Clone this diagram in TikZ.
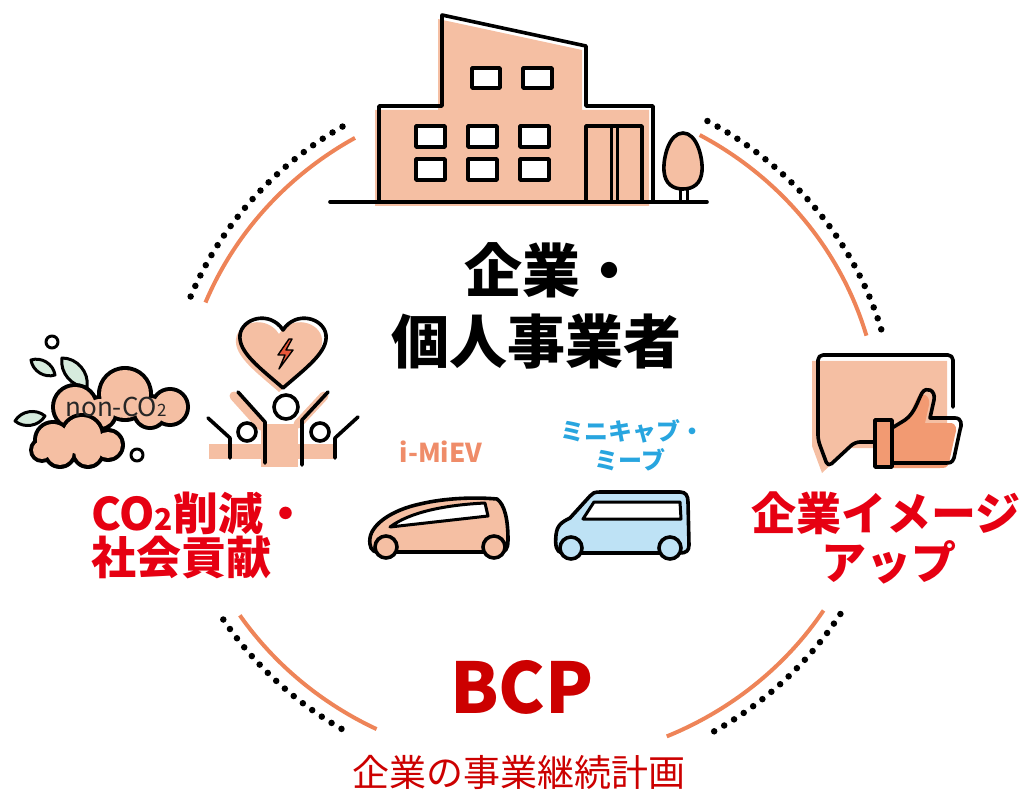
\documentclass[tikz,border=0pt]{standalone}
\usepackage{fontspec}
\newfontfamily\jpfont{Noto Sans CJK JP}
\definecolor{salmon}{HTML}{F5BFA3}
\definecolor{arcorange}{HTML}{EE8458}
\definecolor{brandred}{HTML}{E60012}
\definecolor{bcpred}{HTML}{CC0000}
\definecolor{vanblue}{HTML}{BEE2F5}
\definecolor{capblue}{HTML}{28A5DF}
\definecolor{evorange}{HTML}{EF8C69}
\definecolor{leafgreen}{HTML}{D6EBDD}
\definecolor{thumbor}{HTML}{F29A72}
\definecolor{boltred}{HTML}{E9573A}
\tikzset{
  ink/.style={draw=black,line width=3.6pt,line join=round,line cap=round},
  ring/.style={draw=arcorange,line width=4pt},
  dots/.style={draw=black,line width=6.5pt,line cap=round,dash pattern=on 0pt off 11.6pt},
  window/.style={ink,line width=3.4pt,fill=white},
  leaf/.style={ink,line width=3pt,fill=leafgreen},
  headtxt/.style={font=\jpfont\bfseries\fontsize{58}{64}\selectfont,anchor=base},
  redtxt/.style={font=\jpfont\bfseries\fontsize{45}{50}\selectfont,text=brandred},
  cartxt/.style={font=\jpfont\bfseries\fontsize{24}{28}\selectfont,anchor=base}
}
\begin{document}
\begin{tikzpicture}[x=1pt,y=-1pt]
  \useasboundingbox (0,0) rectangle (1026,794);

  % Ring: orange arcs with dotted outer arcs
  \draw[ring] (530,428) ++(202:350 and 335) arc[start angle=202,end angle=240,x radius=350,y radius=335];
  \draw[ring] (530,428) ++(299:350 and 335) arc[start angle=299,end angle=344,x radius=350,y radius=335];
  \draw[ring] (530,428) ++(33:350 and 335) arc[start angle=33,end angle=67,x radius=350,y radius=335];
  \draw[ring] (530,428) ++(116:350 and 335) arc[start angle=116,end angle=146,x radius=350,y radius=335];
  \draw[dots] (530,428) ++(202:366 and 351) arc[start angle=202,end angle=240,x radius=366,y radius=351];
  \draw[dots] (530,428) ++(299:366 and 351) arc[start angle=299,end angle=344,x radius=366,y radius=351];
  \draw[dots] (530,428) ++(32:366 and 351) arc[start angle=32,end angle=60,x radius=366,y radius=351];
  \draw[dots] (530,428) ++(121:366 and 351) arc[start angle=121,end angle=147,x radius=366,y radius=351];

  % Building
  \fill[salmon,shift={(-4,4)}] (379,202) -- (379,106) -- (442,106) -- (442,15) -- (586,46)
    -- (586,106) -- (653,106) -- (653,202) -- cycle;
  \draw[ink] (379,202) -- (379,106) -- (442,106) -- (442,15) -- (586,46) -- (586,106) -- (653,106) -- (653,202);
  \draw[ink] (586,202) -- (586,126) -- (642,126) -- (642,202);
  \draw[ink,line width=3pt] (611,126) -- (611,202);
  \draw[ink,line width=3pt] (617,126) -- (617,202);
  \draw[window] (472,68) rectangle (500,88);
  \draw[window] (523,68) rectangle (552,88);
  \foreach \wx in {416,468,520}{
    \draw[window] (\wx,126) rectangle ++(29,21);
    \draw[window] (\wx,159) rectangle ++(29,21);
  }
  % tree
  \filldraw[ink,fill=salmon] (683,133) .. controls (697,133) and (703,158) .. (702,171)
    .. controls (701,184) and (693,189) .. (683,189) .. controls (673,189) and (665,184) .. (664,171)
    .. controls (663,158) and (669,133) .. (683,133) -- cycle;
  \draw[ink,line width=3pt] (680,189) -- (680,202);
  \draw[ink,line width=3pt] (687,189) -- (687,202);
  \draw[ink] (330,202) -- (707,202);

  % Heading
  \node[headtxt] (head1) at (551,293) {企業・};
  \node[headtxt] (head2) at (536,363) {個人事業者};

  % Clouds and leaves
  \draw[leaf] (31,360) to[bend left=50] (55,375) to[bend left=50] (31,360) -- cycle;
  \draw[leaf] (62,358) to[bend left=50] (87,387) to[bend left=50] (62,358) -- cycle;
  \draw[leaf] (15,421) to[bend left=50] (45,416) to[bend left=50] (15,421) -- cycle;
  % upper cloud: black rim, then salmon body
  \fill[black] (75,407) circle[radius=24] (125,394) circle[radius=28] (170,407) circle[radius=20]
    (100,413) circle[radius=18] (150,412) circle[radius=18];
  \fill[salmon] (75,407) circle[radius=20] (125,394) circle[radius=24] (170,407) circle[radius=16]
    (100,413) circle[radius=14] (150,412) circle[radius=14];
  % lower cloud
  \fill[black] (53,440) circle[radius=20] (82,436) circle[radius=23] (108,445) circle[radius=17]
    (60,452) circle[radius=17] (88,452) circle[radius=17] (42,450) circle[radius=13];
  \fill[salmon] (53,440) circle[radius=16] (82,436) circle[radius=19] (108,445) circle[radius=13]
    (60,452) circle[radius=13] (88,452) circle[radius=13] (42,450) circle[radius=9];
  \node[font=\jpfont\fontsize{26}{28}\selectfont,text=black!85,anchor=base] (nonco)
    at (116,417) {non-CO\fontsize{17}{18}\selectfont 2};
  \draw[ink,line width=3pt] (52,342) circle[radius=6];
  \draw[ink,line width=3pt] (137,455) circle[radius=6];

  % Heart and people
  \fill[salmon,shift={(-4,4)}] (283,388) .. controls (260,368) and (238,352) .. (240,335)
    .. controls (242,318) and (270,310) .. (283,330) .. controls (296,310) and (324,318) .. (326,335)
    .. controls (328,352) and (306,368) .. (283,388) -- cycle;
  \draw[ink] (283,388) .. controls (260,368) and (238,352) .. (240,335)
    .. controls (242,318) and (270,310) .. (283,330) .. controls (296,310) and (324,318) .. (326,335)
    .. controls (328,352) and (306,368) .. (283,388) -- cycle;
  \filldraw[fill=boltred,draw=black,line width=1.4pt,line join=round] (289,339) -- (278,355) -- (285,355)
    -- (279,369) -- (293,350) -- (286,350) -- (292,339) -- cycle;
  \fill[salmon,shift={(-4,4)}] (265,420) rectangle (302,463);
  \fill[salmon,shift={(-4,4)}] (213,440) rectangle (340,455);
  \draw[salmon,line width=9pt,line cap=round,shift={(-4,4)}] (238,392) -- (265,422);
  \draw[salmon,line width=9pt,line cap=round,shift={(-4,4)}] (328,392) -- (302,420);
  \draw[ink] (238,392) -- (265,422) -- (265,463);
  \draw[ink] (328,392) -- (302,420) -- (302,465);
  \draw[ink] (286,407) circle[radius=12];
  \draw[ink] (208,418) -- (230,438) -- (230,458);
  \draw[ink] (247,432) circle[radius=9];
  \draw[ink] (358,417) -- (335,438) -- (335,458);
  \draw[ink] (320,432) circle[radius=9];

  % Speech bubble with thumbs-up
  \fill[salmon,shift={(-6,6)}] (818,355) -- (953,355) -- (953,442) -- (855,442) -- (828,467) -- (818,440) -- cycle;
  \draw[ink,rounded corners=5] (953,407) -- (953,355) -- (818,355) -- (818,440) -- (828,467) -- (855,442) -- (875,442);
  \fill[thumbor,shift={(-5,5)}] (892,428) -- (905,420) .. controls (915,413) and (918,400) .. (922,393)
    .. controls (926,386) and (936,390) .. (934,400) -- (930,418) -- (955,418)
    .. controls (962,418) and (962,425) .. (960,430) -- (954,458) .. controls (952,463) and (950,463) .. (945,463)
    -- (892,463) -- cycle;
  \draw[ink] (892,428) -- (905,420) .. controls (915,413) and (918,400) .. (922,393)
    .. controls (926,386) and (936,390) .. (934,400) -- (930,418) -- (955,418)
    .. controls (962,418) and (962,425) .. (960,430) -- (954,458) .. controls (952,463) and (950,463) .. (945,463)
    -- (892,463);
  \filldraw[ink,fill=thumbor] (875,420) rectangle (892,467);

  % Cars
  \node[cartxt,text=evorange,font=\jpfont\bfseries\fontsize{26}{28}\selectfont] (evname) at (441,462) {i-MiEV};
  \node[cartxt,text=capblue] (capname1) at (632,440) {ミニキャブ・};
  \node[cartxt,text=capblue] (capname2) at (630,469) {ミーブ};
  \filldraw[ink,fill=salmon] (378,552) .. controls (371,552) and (369,546) .. (370,538)
    .. controls (372,524) and (392,510) .. (420,504) .. controls (445,498) and (475,497) .. (497,499)
    .. controls (505,505) and (508,520) .. (508,540) .. controls (508,550) and (505,552) .. (500,552) -- cycle;
  \filldraw[ink,line width=3pt,fill=white] (390,527) .. controls (410,512) and (445,505) .. (485,503)
    -- (488,516) -- cycle;
  \filldraw[ink,fill=salmon] (386,547) circle[radius=11];
  \filldraw[ink,fill=salmon] (494,547) circle[radius=11];
  \filldraw[ink,fill=vanblue] (562,553) .. controls (556,552) and (555,545) .. (556,535)
    .. controls (557,525) and (562,522) .. (570,518) -- (590,496) .. controls (592,493) and (595,492) .. (600,492)
    -- (680,492) .. controls (686,492) and (688,496) .. (688,502) -- (689,545)
    .. controls (689,551) and (686,553) .. (680,553) -- cycle;
  \filldraw[ink,line width=3pt,fill=white] (583,519) -- (594,502) -- (680,502) -- (681,519) -- cycle;
  \filldraw[ink,fill=vanblue] (571,548) circle[radius=11];
  \filldraw[ink,fill=vanblue] (670,548) circle[radius=11];

  % Red labels
  \node[redtxt,anchor=base west] (effco1) at (88,530) {CO\fontsize{30}{32}\selectfont 2\fontsize{45}{50}\selectfont 削減・};
  \node[redtxt,anchor=base west] (effco2) at (88,574) {社会貢献};
  \node[redtxt,anchor=base] (effimg1) at (886,530) {企業イメージ};
  \node[redtxt,anchor=base] (effimg2) at (889,579) {アップ};

  % BCP
  \node[font=\jpfont\bfseries\fontsize{70}{72}\selectfont,text=bcpred,anchor=base] (bcp) at (522,713) {BCP};
  \node[font=\jpfont\fontsize{37}{40}\selectfont,text=bcpred,anchor=base] (bcpname) at (519,786) {企業の事業継続計画};
\end{tikzpicture}
\end{document}
